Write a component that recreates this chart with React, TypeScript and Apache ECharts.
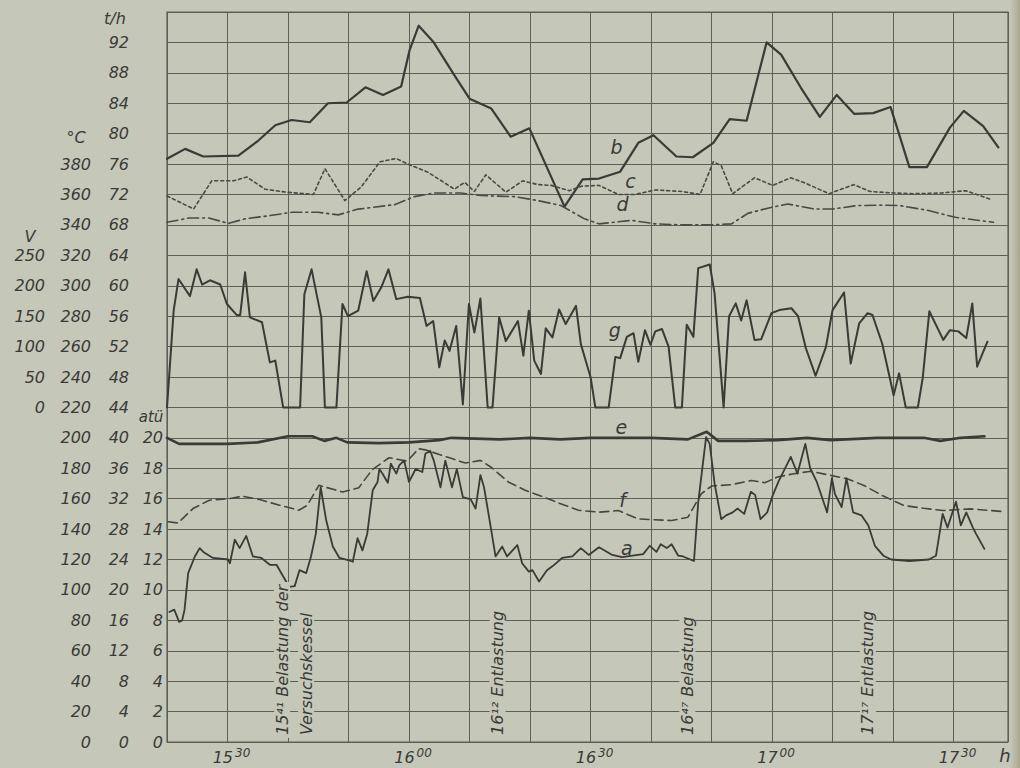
import React, { useEffect, useRef } from "react";
import * as echarts from "echarts";

const PAPER = "#c5c7b9";
const INK = "#3a3a37";
const GRID = "#5d5e58";
const FONT = "DejaVu Sans";

// x values: minutes after 15:00
const X_MIN = 20;
const X_MAX = 159;
const xTickLabels: Record<number, [string, string]> = {
  30: ["15", "30"],
  60: ["16", "00"],
  90: ["16", "30"],
  120: ["17", "00"],
  150: ["17", "30"],
};

// b — steam flow, t/h
const seriesB: [number, number][] = [
  [20, 76.7], [23, 78.0], [26, 77.0], [31.8, 77.1], [35.1, 79.1], [37.9, 81.1], [40.6, 81.8], [43.6, 81.5],
  [46.6, 84.0], [49.7, 84.1], [52.8, 86.1], [55.7, 85.1], [58.7, 86.2], [60.1, 91.0], [61.6, 94.2], [64, 92.1],
  [67.8, 87.3], [70, 84.6], [73.6, 83.3], [76.8, 79.6], [79.9, 80.7], [85.7, 70.4], [88.7, 74.0], [91.4, 74.1],
  [94.9, 75.0], [97.9, 78.8], [100.4, 79.8], [104.2, 77.0], [106.9, 76.9], [110.3, 78.8], [113, 81.9], [115.8, 81.7],
  [119.1, 92.0], [121.5, 90.4], [124.8, 86.0], [127.9, 82.2], [130.7, 85.1], [133.6, 82.6], [136.7, 82.7], [139.6, 83.5],
  [142.7, 75.6], [145.6, 75.6], [149.4, 80.8], [151.7, 83.0], [154.9, 81.0], [157.4, 78.2],
];

// c — temperature, °C
const seriesC: [number, number][] = [
  [20, 359], [24.4, 350.5], [27.4, 369], [31, 369], [33.2, 371.5], [36.2, 363.5], [39.8, 361.5], [44.2, 360],
  [46.1, 377], [49.4, 356], [52.1, 365], [55.2, 381.5], [57.9, 383.7], [59.8, 380], [63.1, 374.7], [67.5, 363.5],
  [69.2, 368], [70.8, 362], [72.7, 373], [76, 361.5], [78.8, 369], [81.3, 366.5], [83.5, 366], [86.5, 362.5],
  [88.5, 365.5], [91.4, 366], [94.6, 360], [97.4, 360], [100.7, 363], [105.1, 362], [108.1, 360], [110.3, 381.5],
  [111.6, 379], [113.5, 360.5], [117.1, 371], [120.1, 366], [123.1, 371], [125.8, 367], [129.4, 360.5], [133.5, 366.5],
  [136.2, 362], [140, 361], [143.4, 360.5], [148, 361], [152, 362.5], [156, 357],
];

// d — temperature, °C
const seriesD: [number, number][] = [
  [20, 341.7], [23.6, 344.5], [26.9, 344.5], [30.2, 341], [32.9, 344], [36.8, 346], [40.6, 348.3], [45, 348.3],
  [48.3, 346.6], [51.6, 350.4], [57.6, 353.3], [60.9, 358.6], [64.2, 361], [68.6, 361], [71.9, 359.3], [77.4, 358.6],
  [81.3, 356], [85.1, 352.8], [89, 344], [91.4, 340.7], [96.8, 343], [100.7, 340.7], [105.1, 340], [110, 340],
  [113.3, 340.7], [116, 347.6], [119.3, 351], [122.6, 353.8], [126.9, 350.5], [130.2, 350.5], [134, 352.7], [137.8, 353],
  [141.1, 352.7], [145.7, 349.6], [150.3, 345], [156.6, 341.7],
];

// g — voltage, V
const seriesG: [number, number][] = [
  [20, 0], [21.1, 159], [21.9, 211], [23.8, 183], [24.9, 227], [25.8, 202], [27.1, 209], [28.8, 202],
  [29.9, 170], [31.5, 152], [32.1, 152], [32.9, 222], [33.7, 148], [35.7, 140], [37, 74], [37.9, 77],
  [39.2, 0], [42, 0], [42.7, 186], [43.9, 227], [45.5, 148], [46.1, 0], [48, 0], [49, 170],
  [49.9, 150], [51.6, 159], [53, 224], [54.1, 175], [55.4, 197], [56.6, 227], [57.9, 178], [59.8, 182],
  [61.8, 180], [62.9, 134], [64, 142], [65, 66], [65.9, 110], [66.7, 93], [67.8, 134], [68.9, 5],
  [69.9, 170], [70.8, 123], [71.8, 179], [73, 0], [73.8, 0], [74.9, 148], [76, 109], [78, 142],
  [78.9, 85], [79.8, 159], [80.7, 77], [81.8, 55], [82.6, 130], [83.7, 115], [84.8, 161], [85.9, 137],
  [87.6, 167], [88.4, 104], [89.4, 70], [90, 50], [90.8, 0], [93, 0], [94.1, 83], [94.9, 81],
  [96, 116], [97.1, 122], [97.9, 75], [99, 127], [99.9, 103], [100.7, 125], [101.8, 129], [102.9, 100],
  [104, 0], [105.1, 0], [105.9, 136], [107, 116], [107.8, 229], [109.7, 235], [110.5, 188], [112, 0],
  [112.9, 150], [114, 171], [114.9, 143], [115.8, 176], [117.1, 111], [118.2, 112], [119.9, 155], [121.2, 160],
  [123.2, 163], [124.3, 150], [125.6, 97], [127.2, 52], [128.9, 99], [129.6, 138], [130, 160], [131.9, 189],
  [133, 72], [134.4, 138], [135.8, 155], [136.6, 152], [138.2, 105], [140.1, 20], [141, 56], [142.1, 0],
  [144.1, 0], [144.9, 48], [146, 158], [148.3, 111], [149.4, 127], [150.8, 125], [152.1, 114], [153.1, 171],
  [153.9, 67], [155.6, 108],
];

// e — pressure, atü
const seriesE: [number, number][] = [
  [20, 20], [22, 19.6], [30, 19.6], [35, 19.7], [40, 20.1], [44, 20.1], [46, 19.8], [48, 20],
  [49.8, 19.7], [55, 19.65], [60, 19.7], [65, 19.85], [67, 20], [75, 19.9], [80, 20], [85, 19.9],
  [90, 20], [100, 20], [106.1, 19.9], [109.2, 20.4], [111.1, 19.8], [115.5, 19.8], [120.9, 19.85], [125.8, 20],
  [129.7, 19.85], [137.4, 20], [145.1, 20], [147.8, 19.8], [151.2, 20], [155.1, 20.1],
];

// f — temperature, °C
const seriesF: [number, number][] = [
  [20.2, 144.8], [21.8, 144], [24.3, 153.5], [27, 159], [30.3, 160], [32.5, 161.6], [35.3, 159.4], [38.6, 155.7],
  [41.8, 152.4], [43.2, 155.7], [45.1, 168.8], [49, 164.4], [51.7, 167.2], [53.9, 179], [56.7, 186.9], [59.7, 184.7],
  [61.6, 192.8], [62.7, 192.1], [65.5, 188.4], [69.3, 183.4], [71.8, 185.2], [73.7, 180.3], [76.4, 171], [79.2, 165.5],
  [81.9, 161.6], [84.7, 157.2], [88, 152.4], [91.4, 151.1], [94.6, 152.2], [97.9, 146.7], [103.4, 145.6], [106.1, 147.8],
  [108.3, 163.2], [110, 168.3], [113.3, 169.2], [116.6, 172], [118.8, 170.5], [120.9, 174.2], [123.6, 176.4], [126.4, 178],
  [129.7, 175.3], [132.4, 173.1], [135.2, 168.7], [138.4, 161.7], [141.8, 155.5], [145, 153.7], [148.3, 152.2], [152.7, 153.3],
  [158.3, 151.5],
];

// a — flow of the test boiler, t/h
const seriesA: [number, number][] = [
  [20.4, 17.1], [21.2, 17.4], [22, 15.8], [22.5, 16], [22.9, 17.4], [23.5, 22.2], [24.6, 24.4], [25.4, 25.5],
  [26, 25], [26.8, 24.6], [27.6, 24.2], [30.1, 24], [30.4, 23.5], [31.2, 26.6], [32, 25.5], [33.1, 27.1],
  [34.2, 24.4], [35.6, 24.2], [37, 23.3], [38.1, 23.3], [39.4, 21.5], [40.2, 20.4], [41.1, 20.5], [41.9, 22.6],
  [43, 22.2], [43.8, 24.4], [44.6, 27.4], [45.4, 33.5], [46.3, 29.2], [47.4, 25.7], [48.5, 24.2], [50.1, 23.9],
  [50.7, 23.7], [51.5, 26.8], [52.3, 25.2], [53.1, 27.4], [54, 33.1], [54.8, 34.2], [55.1, 35.9], [55.6, 35.3],
  [56.5, 34.1], [57, 36.6], [57.9, 35.3], [58.4, 36.4], [59.2, 37], [60, 34.2], [61.1, 35.9], [62.2, 35.5],
  [62.7, 37.9], [63.5, 38.3], [64.1, 37], [65.2, 33.5], [66, 37], [67.1, 33.5], [67.9, 35.9], [68.9, 32.2],
  [70.2, 31.9], [71, 30.7], [71.8, 35.1], [72.4, 33.5], [73.5, 28.3], [74.3, 24.4], [75.4, 25.7], [76.2, 24.4],
  [77.9, 25.9], [78.7, 23.5], [79.8, 22.4], [80.4, 22.6], [81.5, 21.1], [82.8, 22.6], [83.7, 23.1], [85.3, 24.2],
  [87, 24.4], [88.4, 25.5], [89.7, 24.6], [91.4, 25.6], [93.6, 24.6], [95.2, 24.3], [98.7, 24.7], [99.8, 25.8],
  [100.9, 25], [101.6, 26], [102.6, 25.5], [103.4, 26], [104.5, 24.5], [105.3, 24.4], [107.1, 23.8], [107.8, 31.5],
  [109.1, 40.1], [109.7, 39.2], [110.5, 34], [111.6, 29.3], [112.4, 29.8], [113.5, 30.2], [114.3, 30.7], [115.4, 30],
  [116.5, 32.9], [117.2, 32.5], [118.1, 29.3], [119.2, 30.2], [120.1, 32.4], [121.1, 34.3], [123.1, 37.5], [124.2, 35.3],
  [125.5, 39.2], [126.3, 36], [127.4, 34.2], [129.1, 30.2], [129.9, 34.7], [130.4, 32.6], [131.5, 30.9], [132.3, 34.7],
  [133.4, 30.2], [134.8, 29.8], [135.9, 28.5], [137, 25.8], [138.4, 24.5], [139.7, 24], [142.7, 23.8], [145.9, 24],
  [147.1, 24.5], [148.2, 30], [149, 28.2], [150.4, 31.6], [151.2, 28.5], [152.1, 30.2], [153.2, 28.2], [153.7, 27.4],
  [155.1, 25.4],
];

// event annotations (time in minutes after 15:00)
const annotations = [
  { t: 41, text: "15⁴¹ Belastung der" },
  { t: 41, text: "Versuchskessel" },
  { t: 72, text: "16¹² Entlastung" },
  { t: 107, text: "16⁴⁷ Belastung" },
  { t: 137, text: "17¹⁷ Entlastung" },
];
const annotationDx = [-12, 12, 16, -6, -7];

// curve letters, positioned in (time, t/h-scale) units
const curveLabels: { text: string; t: number; v: number }[] = [
  { text: "b", t: 94.3, v: 78.2 },
  { text: "c", t: 96.6, v: 73.8 },
  { text: "d", t: 95.3, v: 70.8 },
  { text: "g", t: 94.0, v: 54.2 },
  { text: "e", t: 95.1, v: 41.4 },
  { text: "f", t: 95.3, v: 31.8 },
  { text: "a", t: 96.0, v: 25.5 },
];

const labelStyle = {
  fontFamily: FONT,
  fontStyle: "italic" as const,
  fontSize: 16,
  color: INK,
};

function makeLine(name: string, data: [number, number][], yAxisIndex: number, width: number, type: any, color = INK) {
  return {
    name,
    type: "line",
    data,
    yAxisIndex,
    showSymbol: false,
    symbol: "none",
    silent: true,
    lineStyle: { color, width, type, cap: "round", join: "round" },
    z: 3,
  };
}

export default function App() {
  const ref = useRef<HTMLDivElement>(null);

  useEffect(() => {
    if (!ref.current) return;
    const chart = echarts.init(ref.current, null, { renderer: "svg" });
    const hiddenAxis = { position: "left", axisLine: { show: false }, axisTick: { show: false }, splitLine: { show: false } };
    const option: any = {
      animation: false,
      backgroundColor: PAPER,
      grid: {
        left: 167,
        top: 12,
        width: 841,
        height: 730,
        containLabel: false,
        outerBoundsMode: "none",
        show: true,
        borderColor: GRID,
        borderWidth: 1.2,
        backgroundColor: "transparent",
      },
      xAxis: {
        type: "value",
        min: X_MIN,
        max: X_MAX,
        interval: 10,
        axisLine: { show: false },
        axisTick: { show: false },
        splitLine: { show: true, lineStyle: { color: GRID, width: 1 } },
        axisLabel: {
          margin: 5,
          showMaxLabel: false,
          formatter: (v: number) => {
            const l = xTickLabels[v];
            return l ? `{h|${l[0]}}{m|${l[1]}}` : "";
          },
          rich: {
            h: { ...labelStyle, fontSize: 16, lineHeight: 18, verticalAlign: "bottom", padding: [0, 0, 0, 8] },
            m: { ...labelStyle, fontSize: 12, lineHeight: 10, verticalAlign: "top", padding: [0, 0, 0, 2] },
          },
        },
      },
      yAxis: [
        {
          type: "value",
          position: "left",
          min: 0,
          max: 96,
          interval: 4,
          axisLine: { show: false },
          axisTick: { show: false },
          splitLine: { show: true, lineStyle: { color: GRID, width: 1 } },
          axisLabel: { ...labelStyle, margin: 38, formatter: (v: number) => (v <= 92 ? String(v) : "") },
        },
        {
          type: "value",
          min: 0,
          max: 480,
          interval: 20,
          ...hiddenAxis,
          axisLabel: { ...labelStyle, margin: 76, formatter: (v: number) => (v <= 380 ? String(v) : "") },
        },
        {
          type: "value",
          min: -550,
          max: 650,
          interval: 50,
          ...hiddenAxis,
          axisLabel: { ...labelStyle, margin: 122, formatter: (v: number) => (v >= 0 && v <= 250 ? String(v) : "") },
        },
        {
          type: "value",
          min: 0,
          max: 48,
          interval: 2,
          ...hiddenAxis,
          axisLabel: { ...labelStyle, margin: 4, formatter: (v: number) => (v <= 20 ? String(v) : "") },
        },
      ],
      series: [
        makeLine("b", seriesB, 0, 2.2, "solid"),
        makeLine("c", seriesC, 1, 1.6, [3, 3], "#4a4a46"),
        makeLine("d", seriesD, 1, 1.6, [11, 4, 2, 4], "#4a4a46"),
        makeLine("g", seriesG, 2, 2, "solid"),
        makeLine("e", seriesE, 3, 2.6, "solid"),
        makeLine("f", seriesF, 1, 1.6, [9, 5], "#464642"),
        makeLine("a", seriesA, 0, 1.8, "solid"),
      ],
    };
    chart.setOption(option);

    const px = (t: number, v: number) =>
      chart.convertToPixel({ xAxisIndex: 0, yAxisIndex: 0 }, [t, v]) as number[];
    const textFont = (size: number) => ({ fontFamily: FONT, fontStyle: "italic", fontSize: size, fill: INK });

    const graphics: any[] = [
      { type: "text", x: 115, y: 18, style: { ...textFont(16), text: "t/h", align: "center", verticalAlign: "middle" } },
      { type: "text", x: 76, y: 137, style: { ...textFont(16), text: "°C", align: "center", verticalAlign: "middle" } },
      { type: "text", x: 30, y: 236, style: { ...textFont(16), text: "V", align: "center", verticalAlign: "middle" } },
      { type: "text", x: 151, y: 417, style: { ...textFont(15), text: "atü", align: "center", verticalAlign: "middle" } },
      { type: "text", x: 1005, y: 755, style: { ...textFont(18), text: "h", align: "center", verticalAlign: "middle" } },
      {
        type: "rect",
        shape: { x: 1010, y: 0, width: 10, height: 768 },
        style: {
          fill: new echarts.graphic.LinearGradient(0, 0, 1, 0, [
            { offset: 0, color: PAPER },
            { offset: 1, color: "#a9a78f" },
          ]),
        },
        silent: true,
        z: 0,
      },
    ];
    annotations.forEach((a, i) => {
      const [x, y] = px(a.t, 0);
      graphics.push({
        type: "text",
        x: x + annotationDx[i],
        y: y - 4,
        rotation: Math.PI / 2,
        z: 10,
        style: {
          ...textFont(16),
          text: a.text,
          align: "left",
          verticalAlign: "middle",
          backgroundColor: PAPER,
          padding: [0, 3],
        },
      });
    });
    curveLabels.forEach((c) => {
      const [x, y] = px(c.t, c.v);
      graphics.push({
        type: "text",
        x,
        y,
        z: 10,
        style: { ...textFont(19), text: c.text, align: "center", verticalAlign: "middle" },
      });
    });
    chart.setOption({ graphic: graphics });

    return () => chart.dispose();
  }, []);

  return <div ref={ref} style={{ position: "fixed", left: 0, top: 0, width: 1020, height: 768 }} />;
}
